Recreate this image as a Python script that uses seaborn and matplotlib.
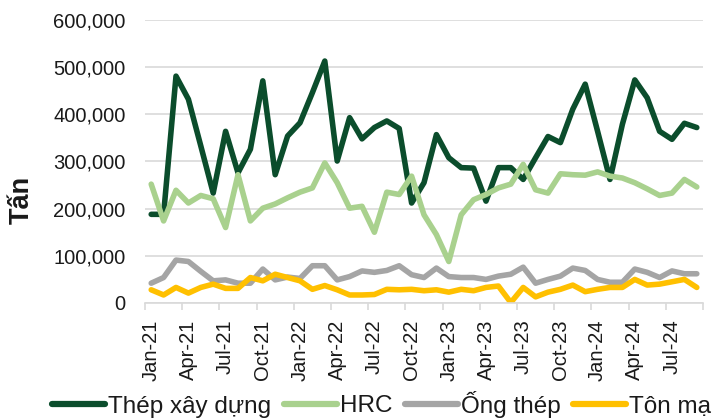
import matplotlib
matplotlib.use("Agg")
import matplotlib.pyplot as plt
import seaborn as sns
import pandas as pd
import numpy as np
from matplotlib.ticker import FuncFormatter, FixedLocator

months = pd.date_range("2021-01-01", periods=45, freq="MS")
month_labels = [d.strftime("%b-%y") for d in months]

thep_xay_dung = [188, 188, 481, 432, 333, 233, 364, 276, 326, 471, 272, 354, 382, 446, 513,
                 301, 393, 348, 372, 386, 370, 212, 255, 357, 308, 287, 286, 216, 287, 287,
                 262, 308, 353, 340, 411, 464, 364, 262, 379, 473, 435, 364, 347, 381, 372]
hrc = [252, 174, 239, 212, 228, 221, 160, 272, 174, 201, 210, 223, 235, 244, 297,
       255, 201, 205, 150, 235, 230, 269, 187, 145, 88, 187, 219, 230, 244, 252,
       294, 240, 233, 274, 272, 271, 278, 269, 265, 255, 242, 228, 233, 262, 246]
ong_thep = [42, 54, 91, 88, 67, 47, 49, 42, 42, 72, 49, 55, 52, 79, 79,
            49, 56, 68, 65, 69, 79, 60, 54, 74, 56, 54, 54, 50, 57, 61,
            76, 42, 50, 57, 74, 69, 50, 44, 44, 72, 65, 54, 68, 62, 62]
ton_ma = [28, 17, 33, 21, 33, 40, 31, 31, 54, 47, 61, 54, 47, 29, 37,
          28, 17, 17, 18, 29, 28, 29, 26, 28, 23, 29, 26, 33, 36, 1,
          33, 13, 23, 29, 38, 24, 29, 33, 33, 50, 38, 40, 45, 50, 33]

series_names = ["Thép xây dựng", "HRC", "Ống thép", "Tôn mạ"]
colors = ["#0B4D2C", "#A9D18E", "#A5A5A5", "#FFC000"]

frames = []
for name, vals in zip(series_names, [thep_xay_dung, hrc, ong_thep, ton_ma]):
    frames.append(pd.DataFrame({"idx": np.arange(len(vals)), "value": np.array(vals) * 1000.0, "series": name}))
df = pd.concat(frames, ignore_index=True)

sns.set_theme(style="white")
plt.rcParams["font.family"] = ["Liberation Sans", "DejaVu Sans"]

fig = plt.figure(figsize=(7.12, 4.18), dpi=100)
ax = fig.add_axes([145 / 712, 1 - 303 / 418, (703 - 145) / 712, (303 - 20) / 418])

sns.lineplot(data=df, x="idx", y="value", hue="series", hue_order=series_names,
             palette=colors, linewidth=4.0, ax=ax, legend=False, sort=False)

ax.set_xlim(-0.5, 44.5)
ax.set_ylim(0, 600000)
ax.set_yticks(np.arange(0, 600001, 100000))
ax.yaxis.set_major_formatter(FuncFormatter(lambda v, p: f"{int(v):,}"))
ax.grid(axis="y", color="#D9D9D9", linewidth=1.2)
ax.set_axisbelow(True)
for s in ["top", "right", "left"]:
    ax.spines[s].set_visible(False)
ax.spines["bottom"].set_color("#D9D9D9")
ax.spines["bottom"].set_linewidth(1.2)

label_pos = list(range(0, 45, 3))
ax.set_xticks(label_pos)
ax.set_xticklabels([month_labels[i] for i in label_pos], rotation=90)
ax.xaxis.set_minor_locator(FixedLocator(np.arange(-0.5, 45, 3)))
ax.tick_params(axis="x", which="major", length=0, pad=12, labelsize=14.5, labelcolor="#1a1a1a")
ax.tick_params(axis="x", which="minor", length=5, width=1.2, color="#D9D9D9", bottom=True)
ax.tick_params(axis="y", length=0, pad=14, labelsize=14.5, labelcolor="#1a1a1a")
ax.set_xlabel("")
ax.set_ylabel("Tấn", fontsize=19.5, fontweight="bold", color="#1a1a1a")
ax.yaxis.set_label_coords(-0.197, 0.364)

handles = [plt.Line2D([0], [0], color=c, linewidth=4.5, solid_capstyle="round") for c in colors]
leg = fig.legend(handles, series_names, loc="center left", bbox_to_anchor=(52 / 712, 1 - 404 / 418),
                 ncol=4, frameon=False, handlelength=2.2, handletextpad=0.12, columnspacing=0.5,
                 borderaxespad=0, borderpad=0,
                 prop={"family": ["Liberation Sans", "DejaVu Sans"], "size": 17.5})
for t in leg.get_texts():
    t.set_color("#1a1a1a")

fig.savefig("out.png", dpi=100)
